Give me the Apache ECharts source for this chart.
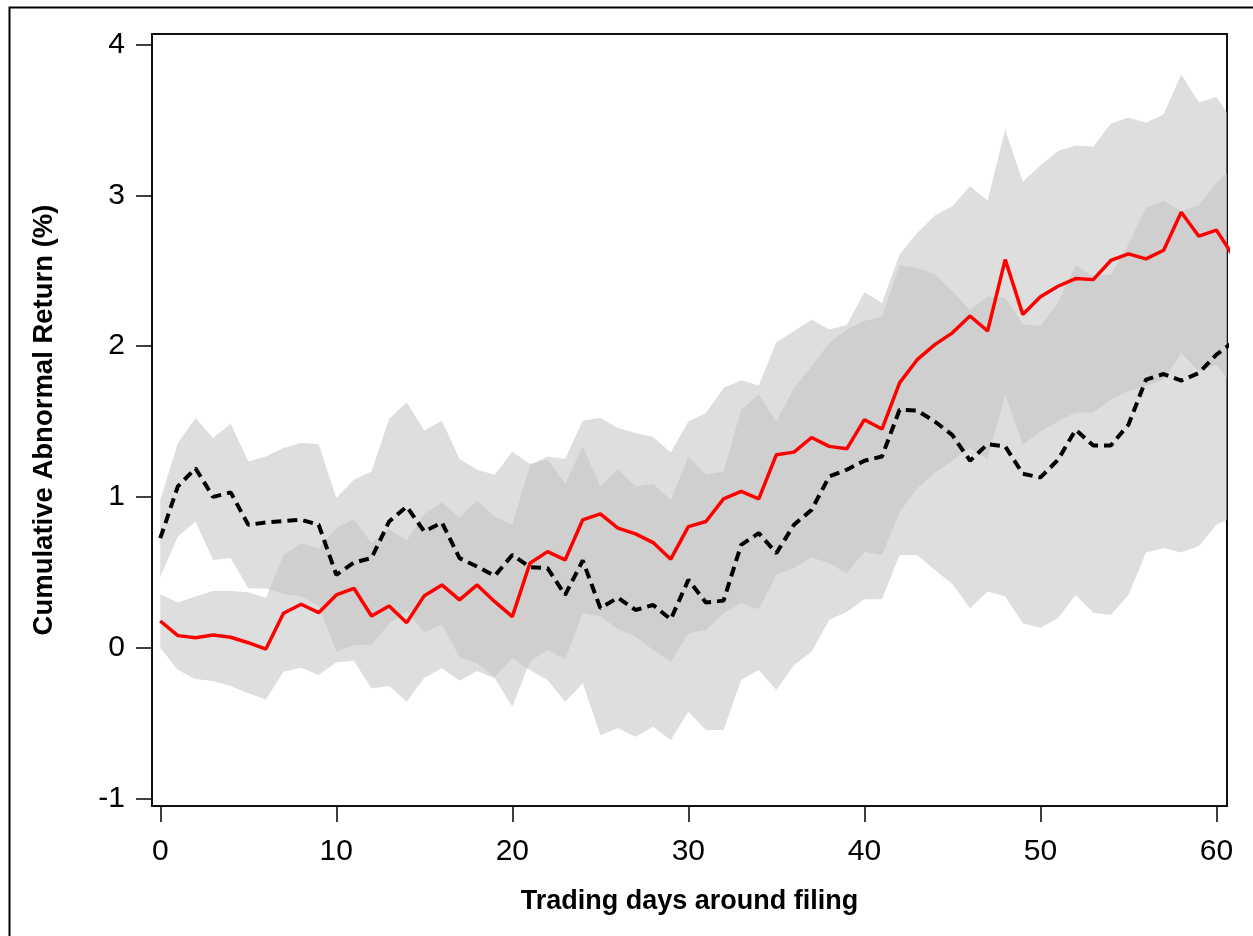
<!DOCTYPE html>
<html>
<head>
<meta charset="utf-8">
<script src="https://cdn.jsdelivr.net/npm/echarts@6/dist/echarts.min.js"></script>
<style>
html, body { margin: 0; padding: 0; background: #fff; }
#main { width: 1253px; height: 936px; }
</style>
</head>
<body>
<div id="main"></div>
<script>
// trading days 0..61 (the last one is cut by the frame)
var days = [];
for (var d = 0; d <= 61; d++) days.push(d);

var xTicks = [0, 10, 20, 30, 40, 50, 60];
var yTicks = [-1, 0, 1, 2, 3, 4];

// red solid line and its band
var redCar = [0.177, 0.08, 0.066, 0.084, 0.069, 0.033, -0.009, 0.228, 0.288, 0.232,
	0.35, 0.394, 0.21, 0.277, 0.166, 0.345, 0.416, 0.317, 0.416, 0.305,
	0.206, 0.56, 0.637, 0.582, 0.848, 0.888, 0.793, 0.755, 0.697, 0.587,
	0.803, 0.837, 0.987, 1.036, 0.987, 1.28, 1.297, 1.394, 1.335, 1.319,
	1.512, 1.45, 1.756, 1.91, 2.01, 2.088, 2.2, 2.1, 2.574, 2.21,
	2.327, 2.397, 2.448, 2.441, 2.568, 2.612, 2.579, 2.636, 2.888, 2.729,
	2.769, 2.59];
var redHi = [0.354, 0.30, 0.339, 0.376, 0.376, 0.368, 0.33, 0.615, 0.693, 0.66,
	0.793, 0.853, 0.693, 0.786, 0.711, 0.888, 0.963, 0.863, 0.974, 0.87,
	0.815, 1.21, 1.268, 1.251, 1.507, 1.523, 1.457, 1.424, 1.397, 1.295,
	1.50, 1.556, 1.722, 1.773, 1.738, 2.025, 2.10, 2.175, 2.11, 2.14,
	2.357, 2.287, 2.607, 2.751, 2.866, 2.928, 3.061, 2.966, 3.438, 3.09,
	3.199, 3.294, 3.331, 3.322, 3.477, 3.517, 3.482, 3.537, 3.802, 3.618,
	3.652, 3.48];
var redLo = [0.0, -0.148, -0.208, -0.221, -0.254, -0.303, -0.343, -0.159, -0.133, -0.181,
	-0.097, -0.086, -0.27, -0.254, -0.358, -0.199, -0.137, -0.219, -0.155, -0.203,
	-0.392, -0.093, -0.015, -0.077, 0.228, 0.206, 0.122, 0.073, -0.015, -0.093,
	0.096, 0.118, 0.228, 0.295, 0.255, 0.483, 0.527, 0.60, 0.56, 0.494,
	0.637, 0.615, 0.896, 1.058, 1.158, 1.242, 1.324, 1.251, 1.678, 1.346,
	1.434, 1.50, 1.56, 1.56, 1.645, 1.70, 1.734, 1.778, 1.955, 1.833,
	1.877, 1.73];

// black dashed line and its band
var blackCar = [0.726, 1.07, 1.19, 1.00, 1.03, 0.815, 0.83, 0.84, 0.848, 0.815,
	0.483, 0.565, 0.594, 0.837, 0.936, 0.77, 0.83, 0.594, 0.538, 0.476,
	0.615, 0.534, 0.527, 0.35, 0.578, 0.262, 0.332, 0.25, 0.283, 0.188,
	0.45, 0.299, 0.312, 0.682, 0.76, 0.627, 0.815, 0.914, 1.135, 1.18,
	1.24, 1.268, 1.578, 1.572, 1.50, 1.41, 1.24, 1.35, 1.335, 1.153,
	1.129, 1.246, 1.445, 1.341, 1.341, 1.479, 1.778, 1.815, 1.771, 1.822,
	1.944, 2.03];
var blackHi = [0.98, 1.357, 1.523, 1.39, 1.485, 1.235, 1.268, 1.324, 1.357, 1.35,
	0.992, 1.113, 1.169, 1.516, 1.627, 1.441, 1.505, 1.251, 1.18, 1.147,
	1.30, 1.22, 1.246, 1.087, 1.335, 1.069, 1.184, 1.069, 1.087, 0.98,
	1.268, 1.147, 1.169, 1.578, 1.678, 1.50, 1.722, 1.866, 2.02, 2.11,
	2.167, 2.194, 2.537, 2.519, 2.475, 2.364, 2.238, 2.327, 2.32, 2.147,
	2.131, 2.287, 2.535, 2.464, 2.475, 2.674, 2.917, 2.962, 2.895, 2.935,
	3.083, 3.19];
var blackLo = [0.471, 0.737, 0.837, 0.582, 0.594, 0.394, 0.392, 0.356, 0.339, 0.28,
	-0.026, 0.017, 0.019, 0.158, 0.245, 0.099, 0.155, -0.063, -0.104, -0.195,
	-0.07, -0.148, -0.214, -0.358, -0.236, -0.58, -0.535, -0.591, -0.525, -0.613,
	-0.425, -0.546, -0.546, -0.214, -0.148, -0.281, -0.115, -0.027, 0.184, 0.239,
	0.321, 0.321, 0.615, 0.615, 0.516, 0.423, 0.262, 0.372, 0.339, 0.162,
	0.133, 0.195, 0.35, 0.232, 0.217, 0.35, 0.631, 0.66, 0.631, 0.675,
	0.815, 0.87];

function pairs(xs, ys) {
	var res = [];
	for (var i = 0; i < xs.length; i++) res.push([xs[i], ys[i]]);
	return res;
}

var bandFill = 'rgba(194,194,194,0.545)';

// one polygon per band: upper edge left->right, lower edge back
function bandSeries(name, lo, hi) {
	return {
		name : name, type : 'custom', silent : true, z : 1,
		data : pairs(days, lo),
		encode : { x : 0, y : 1 },
		renderItem : function(params, api) {
			if (params.dataIndex !== 0) return null;
			var pts = [];
			for (var i = 0; i < days.length; i++) pts.push(api.coord([days[i], hi[i]]));
			for (var j = days.length - 1; j >= 0; j--) pts.push(api.coord([days[j], lo[j]]));
			var cs = params.coordSys;
			return {
				type : 'polygon',
				shape : { points : pts },
				style : { fill : bandFill, stroke : null },
				clipPath : { type : 'rect', shape : { x : cs.x, y : cs.y, width : cs.width, height : cs.height } }
			};
		}
	};
}

var myChart = echarts.init(document.getElementById('main'));

var option = {
	animation : false,
	backgroundColor : '#fff',
	textStyle : { fontFamily : '"Liberation Sans", Arial, sans-serif' },
	grid : {
		left : 152, top : 34, right : 26, bottom : 130,
		show : true, borderColor : '#111', borderWidth : 2, backgroundColor : 'transparent'
	},
	graphic : [ {
		type : 'rect', left : 7, top : 5, z : 100, silent : true,
		shape : { width : 1262, height : 950 },
		style : { fill : null, stroke : '#000', lineWidth : 2 }
	} ],
	xAxis : {
		type : 'value', min : -0.47, max : 60.6,
		name : 'Trading days around filing', nameLocation : 'middle', nameGap : 82,
		nameTextStyle : { fontSize : 27, fontWeight : 'bold', color : '#000' },
		axisLine : { show : false, onZero : false },
		axisTick : { show : true, inside : false, length : 16, customValues : xTicks,
			lineStyle : { color : '#000', width : 1.5 } },
		axisLabel : { customValues : xTicks, margin : 31, fontSize : 30, color : '#000' },
		splitLine : { show : false }
	},
	yAxis : {
		type : 'value', min : -1.05, max : 4.07,
		name : 'Cumulative Abnormal Return (%)', nameLocation : 'middle', nameGap : 94,
		nameTextStyle : { fontSize : 27.5, fontWeight : 'bold', color : '#000' },
		axisLine : { show : false, onZero : false },
		axisTick : { show : true, inside : false, length : 16, customValues : yTicks,
			lineStyle : { color : '#000', width : 1.5 } },
		axisLabel : { customValues : yTicks, margin : 27, fontSize : 30, color : '#000' },
		splitLine : { show : false }
	},
	series : [
		bandSeries('redBand', redLo, redHi),
		bandSeries('blackBand', blackLo, blackHi),
		{
			name : 'black', type : 'line', data : pairs(days, blackCar), symbol : 'none', z : 3,
			lineStyle : { color : '#000', width : 4, type : [10, 6], cap : 'butt' }
		},
		{
			name : 'red', type : 'line', data : pairs(days, redCar), symbol : 'none', z : 4,
			lineStyle : { color : '#ff0000', width : 3.5 }
		}
	]
};

myChart.setOption(option);
</script>
</body>
</html>
